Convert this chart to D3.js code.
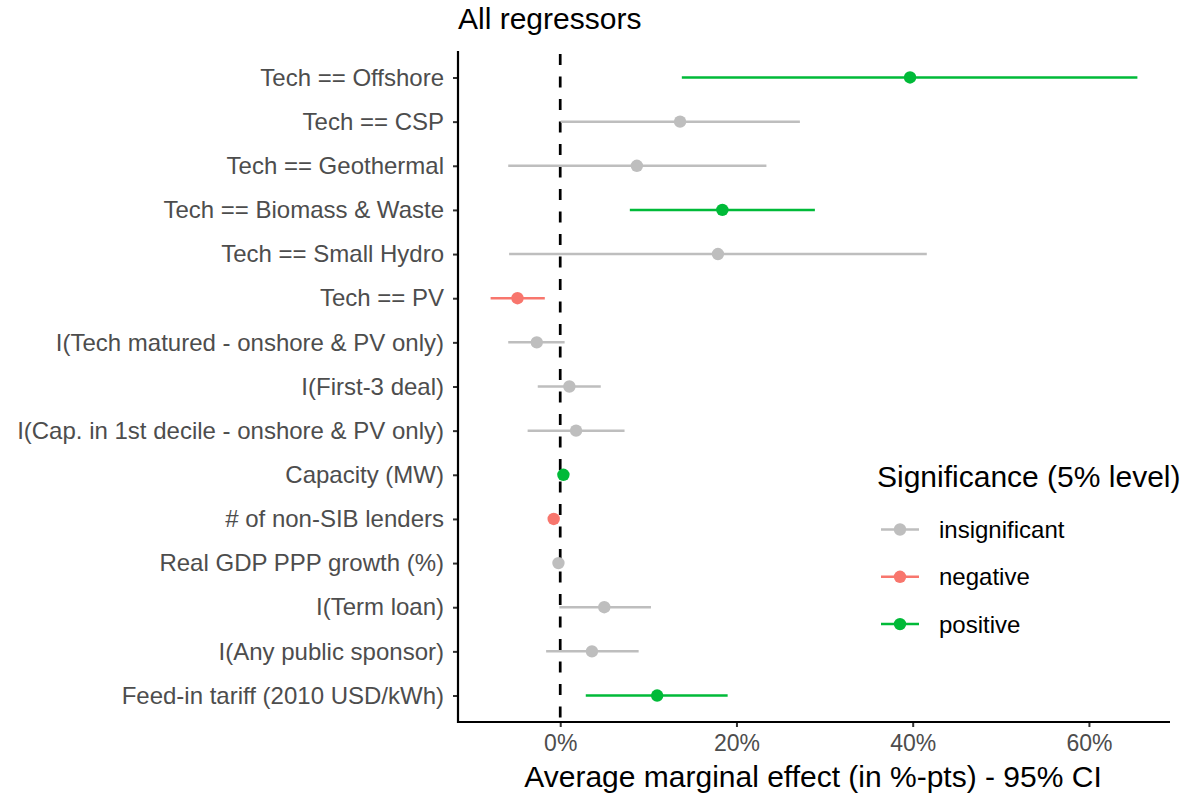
<!DOCTYPE html>
<html>
<head>
<meta charset="utf-8">
<script src="https://cdn.jsdelivr.net/npm/d3@7"></script>
<style>
  body { margin: 0; background: #fff; }
  text { font-family: "Liberation Sans", Arial, sans-serif; }
</style>
</head>
<body>
<div id="chart"></div>
<script>
// Data (top to bottom)
var regressors = ["Tech == Offshore", "Tech == CSP", "Tech == Geothermal", "Tech == Biomass & Waste",
    "Tech == Small Hydro", "Tech == PV", "I(Tech matured - onshore & PV only)", "I(First-3 deal)",
    "I(Cap. in 1st decile - onshore & PV only)", "Capacity (MW)", "# of non-SIB lenders",
    "Real GDP PPP growth (%)", "I(Term loan)", "I(Any public sponsor)", "Feed-in tariff (2010 USD/kWh)"];
var estimate = [39.7, 13.6, 8.7, 18.4, 17.9, -4.85, -2.66, 1.04, 1.8, 0.36, -0.74, -0.2, 5.0, 3.6, 11.0];
var lower    = [13.8, 0.06, -5.9, 7.9, -5.8, -7.9, -5.9, -2.55, -3.7, 0.2, -0.9, -0.3, -0.1, -1.6, 2.9];
var upper    = [65.5, 27.2, 23.4, 28.9, 41.6, -1.75, 0.5, 4.6, 7.3, 0.5, -0.6, -0.1, 10.3, 8.9, 19.0];
var significance = ["positive", "insignificant", "insignificant", "positive", "insignificant", "negative",
    "insignificant", "insignificant", "insignificant", "positive", "negative", "insignificant",
    "insignificant", "insignificant", "positive"];
var sigLevels = ["insignificant", "negative", "positive"];
var sigColors = ["#bebebe", "#F8766D", "#00BA38"];
var xTicks = [0, 20, 40, 60];

var width = 1184, height = 795;
var panel = { left: 458, right: 1170, top: 51, bottom: 722 };

var svg = d3.select("#chart").append("svg")
    .attr("width", width)
    .attr("height", height);

var x = d3.scaleLinear()
    .domain([-11.6, 69.2])
    .range([panel.left, panel.right]);

var y = d3.scalePoint()
    .domain(regressors)
    .range([panel.top, panel.bottom])
    .padding(0.6);

var color = d3.scaleOrdinal().domain(sigLevels).range(sigColors);

var rows = regressors.map(function(r, i) {
    return { name: r, est: estimate[i], lo: lower[i], hi: upper[i], sig: significance[i] };
});

// zero line
svg.append("line")
    .attr("x1", x(0)).attr("x2", x(0))
    .attr("y1", panel.top + 3).attr("y2", panel.bottom)
    .attr("stroke", "#000")
    .attr("stroke-width", 2.7)
    .attr("stroke-dasharray", "11,11.5");

// CI lines
svg.selectAll("line.ci")
    .data(rows)
    .enter().append("line")
    .attr("class", "ci")
    .attr("x1", function(d) { return x(d.lo); })
    .attr("x2", function(d) { return x(d.hi); })
    .attr("y1", function(d) { return y(d.name); })
    .attr("y2", function(d) { return y(d.name); })
    .attr("stroke", function(d) { return color(d.sig); })
    .attr("stroke-width", 2.5);

// points
svg.selectAll("circle.pt")
    .data(rows)
    .enter().append("circle")
    .attr("class", "pt")
    .attr("cx", function(d) { return x(d.est); })
    .attr("cy", function(d) { return y(d.name); })
    .attr("r", 6.2)
    .attr("fill", function(d) { return color(d.sig); });

// x axis
var xAxis = svg.append("g")
    .attr("transform", "translate(0," + panel.bottom + ")")
    .call(d3.axisBottom(x).tickValues(xTicks).tickSize(5).tickPadding(8)
        .tickFormat(function(d) { return d + "%"; }));
xAxis.select(".domain").remove();
xAxis.append("line")
    .attr("x1", panel.left - 1).attr("x2", panel.right)
    .attr("stroke", "#000").attr("stroke-width", 2.2);
xAxis.selectAll(".tick line").attr("stroke", "#333").attr("stroke-width", 2);
xAxis.selectAll(".tick text")
    .attr("fill", "#4d4d4d")
    .style("font-size", "23px");

// y axis
var yAxis = svg.append("g")
    .attr("transform", "translate(" + panel.left + ",0)")
    .call(d3.axisLeft(y).tickSize(5).tickPadding(9));
yAxis.select(".domain").remove();
yAxis.append("line")
    .attr("y1", panel.top).attr("y2", panel.bottom + 1)
    .attr("stroke", "#000").attr("stroke-width", 2.2);
yAxis.selectAll(".tick line").attr("stroke", "#333").attr("stroke-width", 2);
yAxis.selectAll(".tick text")
    .attr("fill", "#4d4d4d")
    .style("font-size", "24px");

// title
svg.append("text")
    .attr("x", panel.left)
    .attr("y", 29)
    .style("font-size", "30px")
    .attr("fill", "#000")
    .text("All regressors");

// x axis title
svg.append("text")
    .attr("x", 813)
    .attr("y", 787)
    .attr("text-anchor", "middle")
    .style("font-size", "30px")
    .attr("fill", "#000")
    .text("Average marginal effect (in %-pts) - 95% CI");

// legend
var legend = svg.append("g").attr("transform", "translate(877,0)");
legend.append("text")
    .attr("x", 0).attr("y", 487)
    .style("font-size", "30px")
    .attr("fill", "#000")
    .text("Significance (5% level)");

var items = legend.selectAll("g.item")
    .data(sigLevels)
    .enter().append("g")
    .attr("class", "item")
    .attr("transform", function(d, i) { return "translate(0," + (529.5 + i * 47.3) + ")"; });
items.append("line")
    .attr("x1", 4).attr("x2", 42)
    .attr("stroke", function(d) { return color(d); })
    .attr("stroke-width", 2.5);
items.append("circle")
    .attr("cx", 23).attr("r", 6.2)
    .attr("fill", function(d) { return color(d); });
items.append("text")
    .attr("x", 62).attr("dy", "0.35em")
    .style("font-size", "24px")
    .attr("fill", "#000")
    .text(function(d) { return d; });
</script>
</body>
</html>
